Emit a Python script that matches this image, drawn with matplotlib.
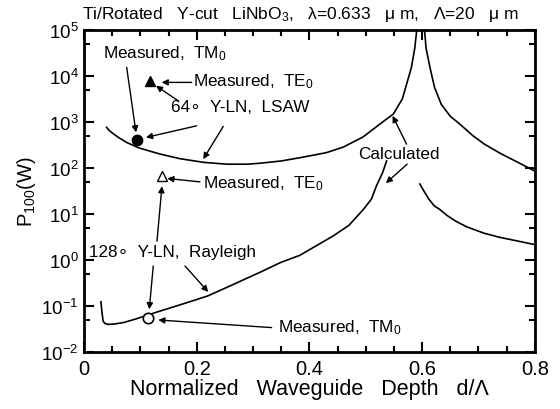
import numpy as np
import matplotlib
matplotlib.use("Agg")
import matplotlib.pyplot as plt
from matplotlib.ticker import MultipleLocator, LogLocator, NullFormatter

plt.rcParams['font.family'] = ['Liberation Sans', 'DejaVu Sans']
plt.rcParams['mathtext.fontset'] = 'custom'
plt.rcParams['mathtext.rm'] = 'Liberation Sans'
plt.rcParams['mathtext.it'] = 'Liberation Sans:italic'
plt.rcParams['mathtext.bf'] = 'Liberation Sans:bold'

# calculated curves (d/Lambda, log10 P100)
lsaw_left_d = [0.040, 0.045, 0.050, 0.060, 0.076, 0.096, 0.115, 0.135, 0.170, 0.212, 0.253,
               0.290, 0.312, 0.350, 0.383, 0.430, 0.460, 0.495, 0.525, 0.549, 0.565, 0.581,
               0.587, 0.591]
lsaw_left_logp = [2.88, 2.81, 2.76, 2.67, 2.55, 2.44, 2.37, 2.30, 2.20, 2.12, 2.08,
                  2.08, 2.10, 2.15, 2.22, 2.33, 2.45, 2.67, 2.95, 3.17, 3.50, 4.18,
                  4.60, 5.05]
lsaw_right_d = [0.604, 0.607, 0.614, 0.622, 0.634, 0.650, 0.667, 0.690, 0.710, 0.738, 0.770,
                0.800]
lsaw_right_logp = [5.05, 4.60, 4.18, 3.75, 3.38, 3.12, 2.95, 2.70, 2.52, 2.32, 2.12,
                   1.93]
ray_left_d = [0.030, 0.032, 0.034, 0.037, 0.043, 0.055, 0.070, 0.090, 0.105, 0.130, 0.164,
              0.200, 0.220, 0.260, 0.312, 0.350, 0.383, 0.442, 0.470, 0.496, 0.510, 0.519,
              0.530, 0.537]
ray_left_logp = [-0.91, -1.15, -1.33, -1.38, -1.40, -1.39, -1.36, -1.29, -1.23, -1.13, -1.00,
                 -0.86, -0.78, -0.56, -0.27, -0.05, 0.10, 0.52, 0.75, 1.10, 1.32, 1.61,
                 1.90, 2.15]
ray_right_d = [0.596, 0.603, 0.612, 0.622, 0.631, 0.645, 0.660, 0.679, 0.710, 0.738, 0.770,
               0.797]
ray_right_logp = [1.65, 1.50, 1.32, 1.17, 1.10, 0.96, 0.84, 0.72, 0.58, 0.49, 0.41,
                  0.34]

# measured points
lsaw_tm_d, lsaw_tm_p = [0.0946], [400]
lsaw_te_d, lsaw_te_p = [0.117], [7800]
ray_te_d, ray_te_p = [0.138], [65]
ray_tm_d, ray_tm_p = [0.114], [0.054]

fig = plt.figure(figsize=(5.6, 4.1), dpi=100)
ax = fig.add_axes([0.15, 0.139, 0.805, 0.786])


def px(x, y):
    # pixel position in the 560x410 picture -> data coordinates
    return ((x - 84) / 563.75, 10 ** (5 - (y - 30.7) / 46))


for d, lp in [(lsaw_left_d, lsaw_left_logp), (lsaw_right_d, lsaw_right_logp),
              (ray_left_d, ray_left_logp), (ray_right_d, ray_right_logp)]:
    ax.plot(d, 10 ** np.array(lp), color='k', lw=1.2)

ax.plot(lsaw_tm_d, lsaw_tm_p, 'o', color='k', ms=7.5, mfc='k')
ax.plot(lsaw_te_d, lsaw_te_p, '^', color='k', ms=6.5, mfc='k')
ax.plot(ray_te_d, ray_te_p, '^', color='k', ms=6.5, mfc='white', mew=1.0)
ax.plot(ray_tm_d, ray_tm_p, 'o', color='k', ms=7.5, mfc='white', mew=1.2)

texts = [
    ((103, 54), "Measured,  TM$_0$"),
    ((193, 82), "Measured,  TE$_0$"),
    ((171, 107), "64\u2218  Y-LN,  LSAW"),
    ((203, 183), "Measured,  TE$_0$"),
    ((89, 252), "128\u2218  Y-LN,  Rayleigh"),
    ((278, 327), "Measured,  TM$_0$"),
    ((358, 154), "Calculated"),
]
for (x, y), s in texts:
    ax.text(*px(x, y), s, fontsize=12.3, ha='left', va='center')

arrows = [
    ((126.7, 68.3), (136, 133.3)),
    ((191.7, 83.3), (161.7, 83.3)),
    ((178.3, 101.7), (156, 86.7)),
    ((196.7, 126.7), (146, 138.3)),
    ((223.3, 127.3), (203.3, 160)),
    ((200, 182.7), (167.3, 179.3)),
    ((157, 242), (162, 187)),
    ((153.3, 266.7), (149.3, 310)),
    ((185, 266.7), (208.3, 292.7)),
    ((271.7, 328.3), (158.3, 320.7)),
    ((406.7, 145), (392.7, 116.7)),
    ((407.3, 165), (386, 184)),
]
for start, end in arrows:
    ax.annotate('', xy=px(*end), xytext=px(*start),
                arrowprops=dict(arrowstyle='-|>', color='k', lw=1.0,
                                mutation_scale=9, shrinkA=0, shrinkB=0))

ax.set_yscale('log')
ax.set_xlim(0, 0.8)
ax.set_ylim(1e-2, 1e5)
ax.xaxis.set_minor_locator(MultipleLocator(0.05))
ax.set_xticks([0, 0.2, 0.4, 0.6, 0.8])
ax.set_xticklabels(['0', '0.2', '0.4', '0.6', '0.8'])
ax.yaxis.set_major_locator(LogLocator(base=10, numticks=20))
ax.yaxis.set_minor_locator(LogLocator(base=10, subs=[5.0], numticks=20))
ax.yaxis.set_minor_formatter(NullFormatter())
ax.tick_params(which='both', direction='in', top=True, right=True, width=1.5)
ax.tick_params(which='major', length=7, labelsize=14.5, pad=5)
ax.tick_params(axis='y', which='major', labelsize=13.5, pad=4)
ax.tick_params(which='minor', length=4)
for sp in ax.spines.values():
    sp.set_linewidth(2)

ax.set_xlabel("Normalized   Waveguide   Depth   d/\u039b", fontsize=15.5, labelpad=0)
ax.set_ylabel("P$_{100}$(W)", fontsize=14.5, labelpad=2)
fig.text(82 / 560, 1 - 14 / 410,
         "Ti/Rotated   Y-cut   LiNbO$_3$,   \u03bb=0.633   \u03bc m,   \u039b=20   \u03bc m",
         fontsize=12.5, ha='left', va='center')

fig.savefig("out.png", dpi=100)
